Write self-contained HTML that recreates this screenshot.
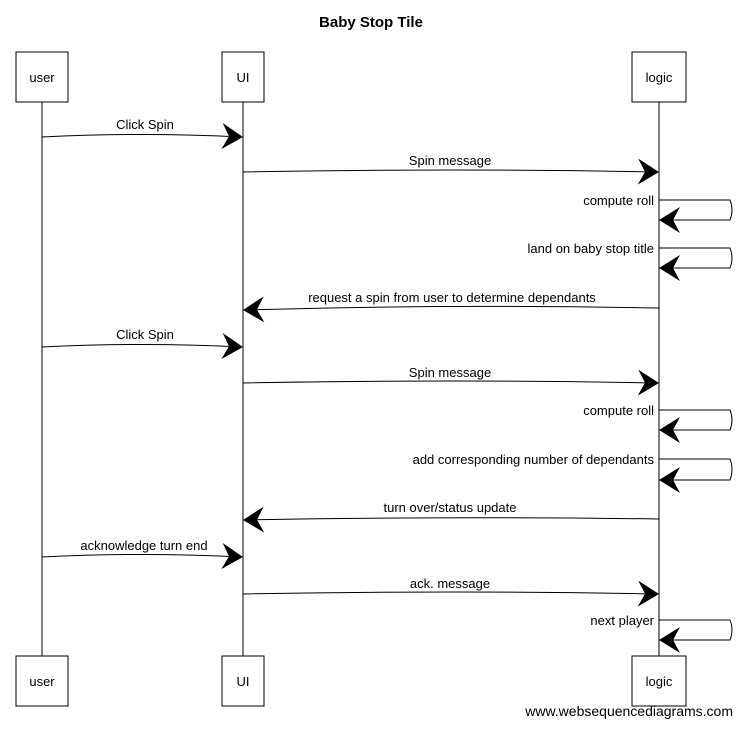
<!DOCTYPE html>
<html><head><meta charset="utf-8"><style>
html,body{margin:0;padding:0;background:#fff}
svg text{font-family:"Liberation Sans",sans-serif;font-size:13px;fill:#000}
</style></head><body>
<svg width="743" height="726" viewBox="0 0 743 726" xmlns="http://www.w3.org/2000/svg">
<defs>
<marker id="a" markerWidth="24" markerHeight="28" refX="20" refY="14" orient="auto" markerUnits="userSpaceOnUse">
<path d="M0,1 L21,14 L0,27 L7,14 Z" fill="#000"/>
</marker>
</defs>
<text x="371" y="27" text-anchor="middle" style="font-size:15px;font-weight:bold">Baby Stop Tile</text>
<g stroke="#000" stroke-width="1" fill="none">
<line x1="42" y1="102" x2="42" y2="656"/>
<line x1="243" y1="102" x2="243" y2="656"/>
<line x1="659" y1="102" x2="659" y2="656"/>
<rect x="16" y="52" width="52" height="50" fill="#fff"/>
<rect x="222" y="52" width="42" height="50" fill="#fff"/>
<rect x="632" y="52" width="54" height="50" fill="#fff"/>
<rect x="16" y="656" width="52" height="50" fill="#fff"/>
<rect x="222" y="656" width="42" height="50" fill="#fff"/>
<rect x="632" y="656" width="54" height="50" fill="#fff"/>
<path d="M42,137 Q140,132 242,137" marker-end="url(#a)"/>
<path d="M243,172 Q450,168 658,172" marker-end="url(#a)"/>
<path d="M659,200 L730,200 Q734,210 730,220 L660,220" marker-end="url(#a)"/>
<path d="M659,248 L730,248 Q734,258 730,268 L660,268" marker-end="url(#a)"/>
<path d="M659,308 Q450,304 244,310" marker-end="url(#a)"/>
<path d="M42,347 Q140,342 242,347" marker-end="url(#a)"/>
<path d="M243,383 Q450,379 658,383" marker-end="url(#a)"/>
<path d="M659,410 L730,410 Q734,420 730,430 L660,430" marker-end="url(#a)"/>
<path d="M659,459 L730,459 Q734,469 730,480 L660,480" marker-end="url(#a)"/>
<path d="M659,519 Q450,516 244,520" marker-end="url(#a)"/>
<path d="M42,557 Q140,552 242,557" marker-end="url(#a)"/>
<path d="M243,594 Q450,590 658,594" marker-end="url(#a)"/>
<path d="M659,620 L730,620 Q734,630 730,640 L660,640" marker-end="url(#a)"/>
</g>
<text x="42" y="82" text-anchor="middle">user</text>
<text x="243" y="82" text-anchor="middle">UI</text>
<text x="659" y="82" text-anchor="middle">logic</text>
<text x="42" y="686" text-anchor="middle">user</text>
<text x="243" y="686" text-anchor="middle">UI</text>
<text x="659" y="686" text-anchor="middle">logic</text>
<text x="145" y="129" text-anchor="middle">Click Spin</text>
<text x="450" y="165" text-anchor="middle">Spin message</text>
<text x="654" y="205" text-anchor="end">compute roll</text>
<text x="654" y="253" text-anchor="end">land on baby stop title</text>
<text x="452" y="302" text-anchor="middle">request a spin from user to determine dependants</text>
<text x="145" y="339" text-anchor="middle">Click Spin</text>
<text x="450" y="377" text-anchor="middle">Spin message</text>
<text x="654" y="415" text-anchor="end">compute roll</text>
<text x="654" y="464" text-anchor="end">add corresponding number of dependants</text>
<text x="450" y="512" text-anchor="middle">turn over/status update</text>
<text x="144" y="550" text-anchor="middle">acknowledge turn end</text>
<text x="450" y="588" text-anchor="middle">ack. message</text>
<text x="654" y="625" text-anchor="end">next player</text>
<text x="733" y="716" text-anchor="end" style="font-size:14px">www.websequencediagrams.com</text>
</svg>
</body></html>
